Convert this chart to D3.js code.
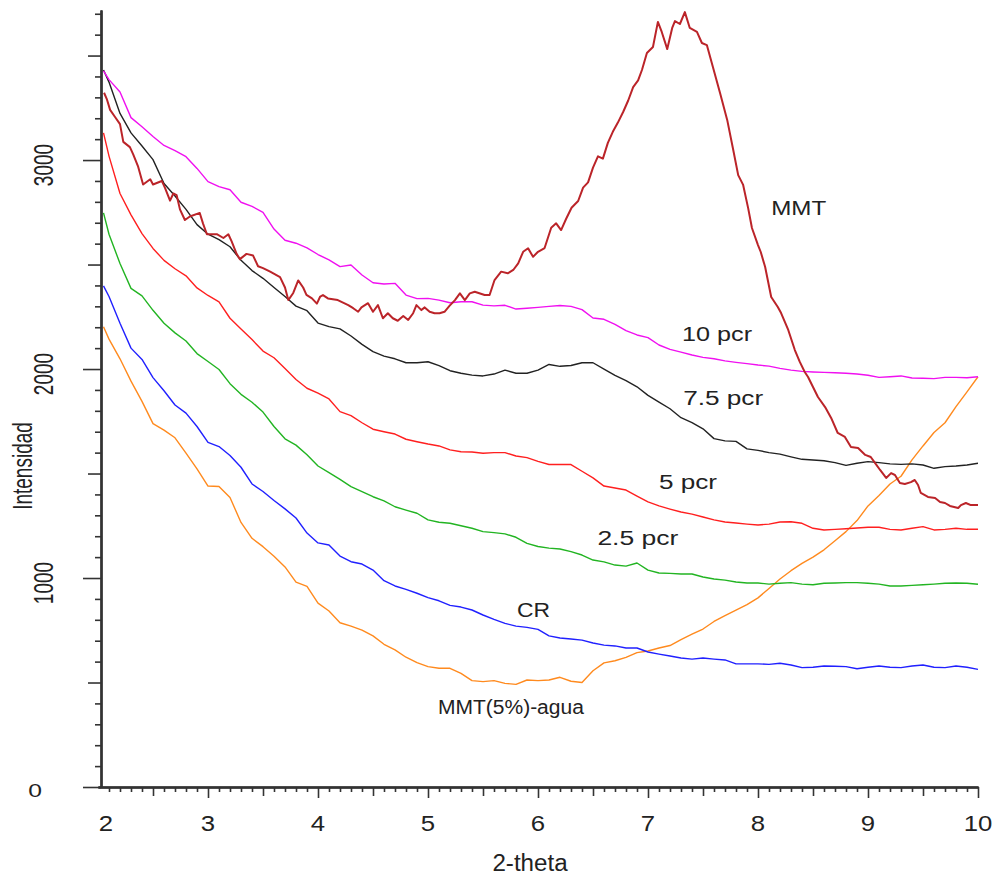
<!DOCTYPE html>
<html>
<head>
<meta charset="utf-8">
<script src="https://cdn.jsdelivr.net/npm/d3@7"></script>
<style>
  html, body { margin: 0; padding: 0; background: #fff; }
  svg text { font-family: "Liberation Sans", Arial, sans-serif; fill: #222; }
</style>
</head>
<body>
<svg id="chart" width="992" height="877"></svg>
<script>
'use strict';

// 2-theta sampling grid used by the six composite patterns
var twoTheta = [2.05].concat(d3.range(21, 101).map(function (i) { return i / 10; }));

// intensities, one value per twoTheta step
var pcr10 = [3427, 3385, 3326, 3203, 3159, 3113, 3070, 3045, 3016, 2960, 2897,
    2873, 2858, 2798, 2778, 2750, 2670, 2616, 2602, 2580, 2548,
    2522, 2490, 2498, 2450, 2413, 2407, 2410, 2354, 2337, 2338,
    2330, 2317, 2322, 2322, 2306, 2302, 2305, 2287, 2291, 2295,
    2300, 2304, 2300, 2284, 2244, 2238, 2214, 2184, 2163, 2150,
    2115, 2094, 2081, 2067, 2056, 2049, 2039, 2032, 2026, 2019,
    2014, 2003, 1995, 1989, 1986, 1984, 1982, 1980, 1976, 1970,
    1960, 1963, 1967, 1957, 1956, 1954, 1960, 1960, 1958, 1963];

var pcr75 = [3431, 3373, 3223, 3130, 3067, 3002, 2888, 2828, 2764, 2691, 2645,
    2619, 2585, 2520, 2471, 2434, 2390, 2347, 2301, 2279, 2220,
    2203, 2192, 2158, 2118, 2083, 2062, 2049, 2030, 2030, 2035,
    2016, 1992, 1980, 1971, 1967, 1976, 1995, 1980, 1980, 1995,
    2022, 2013, 2017, 2030, 2030, 2000, 1970, 1945, 1915, 1874,
    1842, 1810, 1767, 1744, 1714, 1667, 1656, 1654, 1618, 1611,
    1600, 1593, 1580, 1568, 1565, 1561, 1552, 1539, 1549, 1557,
    1552, 1546, 1544, 1546, 1541, 1525, 1533, 1536, 1541, 1549];

var pcr5 = [3130, 3019, 2840, 2738, 2648, 2577, 2520, 2480, 2446, 2388, 2352,
    2321, 2243, 2192, 2141, 2086, 2054, 2002, 1950, 1908, 1885,
    1857, 1796, 1777, 1743, 1712, 1700, 1689, 1664, 1652, 1641,
    1632, 1613, 1604, 1603, 1597, 1600, 1600, 1584, 1576, 1558,
    1543, 1543, 1543, 1511, 1479, 1440, 1431, 1421, 1392, 1364,
    1345, 1330, 1316, 1306, 1292, 1278, 1268, 1263, 1258, 1254,
    1258, 1268, 1269, 1262, 1238, 1230, 1233, 1236, 1239, 1243,
    1243, 1233, 1230, 1238, 1246, 1230, 1233, 1238, 1233, 1233];

var pcr25 = [2747, 2645, 2505, 2386, 2350, 2281, 2219, 2173, 2134, 2074, 2036,
    1998, 1930, 1879, 1841, 1794, 1725, 1666, 1636, 1590, 1536,
    1504, 1472, 1437, 1413, 1389, 1369, 1341, 1325, 1310, 1278,
    1267, 1262, 1250, 1238, 1222, 1217, 1211, 1195, 1166, 1151,
    1143, 1139, 1126, 1110, 1086, 1077, 1062, 1057, 1072, 1038,
    1024, 1022, 1019, 1019, 1005, 995, 990, 981, 976, 976,
    971, 975, 978, 971, 968, 975, 976, 978, 978, 975,
    971, 962, 962, 965, 968, 971, 975, 976, 975, 970];

var cr = [2398, 2347, 2219, 2100, 2046, 1959, 1896, 1828, 1789, 1725, 1649,
    1629, 1586, 1530, 1450, 1414, 1371, 1331, 1287, 1215, 1168,
    1158, 1105, 1078, 1067, 1038, 987, 962, 946, 927, 906,
    891, 869, 861, 847, 823, 802, 783, 770, 764, 754,
    723, 713, 708, 703, 689, 679, 675, 665, 665, 646,
    636, 627, 617, 612, 617, 612, 608, 589, 589, 589,
    587, 592, 584, 571, 573, 579, 578, 576, 566, 573,
    579, 573, 571, 579, 584, 573, 571, 579, 573, 563];

var agua = [2202, 2143, 2049, 1942, 1845, 1739, 1708, 1671, 1598, 1522, 1440,
    1438, 1385, 1266, 1190, 1150, 1104, 1053, 980, 960, 880,
    842, 786, 770, 751, 723, 683, 656, 621, 595, 576,
    568, 568, 544, 509, 504, 509, 496, 491, 512, 509,
    512, 525, 506, 500, 556, 594, 604, 620, 643, 651,
    665, 677, 705, 731, 756, 792, 820, 846, 873, 905,
    950, 995, 1035, 1070, 1100, 1135, 1178, 1222, 1275, 1345,
    1395, 1450, 1487, 1565, 1632, 1696, 1743, 1820, 1891, 1963];

// the clay alone is traced on its own, finer grid (its peak is jagged)
var mmtTheta = [2.055, 2.08, 2.11, 2.155, 2.2, 2.23, 2.29, 2.32, 2.365, 2.41,
    2.475, 2.5, 2.58, 2.61, 2.655, 2.685, 2.715, 2.745, 2.79, 2.835,
    2.925, 2.955, 2.99, 3.08, 3.14, 3.185, 3.215, 3.26, 3.29, 3.35,
    3.41, 3.455, 3.5, 3.565, 3.655, 3.7, 3.73, 3.775, 3.82, 3.865,
    3.895, 3.945, 3.99, 4.02, 4.045, 4.09, 4.18, 4.275, 4.32, 4.365,
    4.395, 4.455, 4.5, 4.545, 4.59, 4.635, 4.68, 4.725, 4.775, 4.82,
    4.865, 4.895, 4.94, 4.97, 5.015, 5.06, 5.105, 5.15, 5.195, 5.245,
    5.29, 5.335, 5.38, 5.425, 5.515, 5.56, 5.605, 5.665, 5.725, 5.775,
    5.82, 5.865, 5.91, 5.955, 6.0, 6.06, 6.12, 6.165, 6.21, 6.255,
    6.305, 6.365, 6.41, 6.455, 6.5, 6.545, 6.59, 6.635, 6.68, 6.725,
    6.775, 6.82, 6.865, 6.91, 6.945, 6.99, 7.045, 7.09, 7.125, 7.175,
    7.22, 7.245, 7.29, 7.335, 7.38, 7.445, 7.49, 7.535, 7.59, 7.655,
    7.72, 7.775, 7.82, 7.865, 7.91, 7.945, 8.0, 8.025, 8.065, 8.12,
    8.18, 8.21, 8.275, 8.335, 8.38, 8.425, 8.455, 8.5, 8.545, 8.61,
    8.665, 8.725, 8.79, 8.845, 8.91, 8.975, 9.025, 9.065, 9.11, 9.165,
    9.21, 9.245, 9.29, 9.335, 9.39, 9.425, 9.455, 9.48, 9.545, 9.61,
    9.655, 9.7, 9.745, 9.82, 9.845, 9.89, 9.935, 10.0];

var mmtCounts = [3322, 3292, 3240, 3206, 3172, 3087, 3062, 3027, 2968, 2883,
    2908, 2883, 2900, 2866, 2806, 2840, 2832, 2764, 2713, 2730,
    2747, 2696, 2645, 2645, 2627, 2645, 2611, 2551, 2526, 2551,
    2543, 2492, 2483, 2466, 2440, 2390, 2330, 2364, 2424, 2390,
    2355, 2338, 2313, 2347, 2354, 2338, 2330, 2306, 2291, 2274,
    2295, 2315, 2274, 2306, 2243, 2267, 2243, 2231, 2254, 2235,
    2267, 2306, 2282, 2295, 2274, 2267, 2267, 2274, 2302, 2330,
    2362, 2330, 2362, 2370, 2354, 2354, 2426, 2466, 2458, 2474,
    2506, 2561, 2578, 2537, 2561, 2579, 2676, 2697, 2665, 2718,
    2772, 2804, 2868, 2893, 2964, 3018, 3007, 3082, 3135, 3178,
    3231, 3285, 3349, 3381, 3431, 3512, 3541, 3661, 3613, 3531,
    3632, 3665, 3651, 3708, 3632, 3613, 3560, 3550, 3445, 3321,
    3192, 3048, 2928, 2881, 2771, 2675, 2593, 2560, 2488, 2345,
    2297, 2268, 2187, 2091, 2034, 1986, 1962, 1914, 1866, 1818,
    1766, 1694, 1675, 1627, 1622, 1589, 1579, 1550, 1517, 1479,
    1502, 1493, 1455, 1450, 1459, 1469, 1445, 1407, 1388, 1383,
    1364, 1359, 1345, 1335, 1349, 1359, 1349, 1349];

// curve names as printed next to each pattern, with their anchor (2-theta, intensity)
var labelText  = ["MMT", "10 pcr", "7.5 pcr", "5 pcr", "2.5 pcr", "CR", "MMT(5%)-agua"];
var labelTheta = [8.12, 7.31, 7.32, 7.10, 6.54, 5.81, 5.09];
var labelValue = [2737, 2134, 1828, 1426, 1158, 813, 349];

var yTickLabels = [0, 1000, 2000, 3000];
var xTickLabels = [2, 3, 4, 5, 6, 7, 8, 9, 10];

/*==============================
=            Setup             =
==============================*/
var svg = d3.select('#chart');
svg.append('rect').attr('width', 992).attr('height', 877).attr('fill', '#fff');

var x = d3.scaleLinear().domain([2, 10]).range([98, 978]);
var y = d3.scaleLinear().domain([0, 3718]).range([787, 10]);

var axisColor = '#333';

/*==============================
=            Axes              =
==============================*/
var yMinor  = d3.range(0, 3800, 100).filter(function (v) { return v % 500 !== 0; });
var yMedium = [500, 1500, 2500, 3500];
var yMajor  = [0, 1000, 2000, 3000];

function drawAxis(g, axis) {
    g.call(axis);
    g.selectAll('.tick line').attr('stroke', axisColor).attr('stroke-width', 1.6);
    g.selectAll('.tick text').remove();
    g.select('.domain').attr('stroke', axisColor).attr('stroke-width', 2);
}

var yAxisG = svg.append('g').attr('transform', 'translate(101,0)');
drawAxis(yAxisG.append('g'), d3.axisLeft(y).tickValues(yMinor).tickSize(6).tickSizeOuter(0));
drawAxis(yAxisG.append('g'), d3.axisLeft(y).tickValues(yMedium).tickSize(13).tickSizeOuter(0));
drawAxis(yAxisG.append('g'), d3.axisLeft(y).tickValues(yMajor).tickSize(18).tickSizeOuter(0));

var xMinor = d3.range(21, 100).filter(function (i) { return i % 5 !== 0; }).map(function (i) { return i / 10; });
var xHalf  = d3.range(25, 100, 10).map(function (i) { return i / 10; });
var xMajor = d3.range(3, 11);

var xAxisG = svg.append('g').attr('transform', 'translate(0,787)');
drawAxis(xAxisG.append('g'), d3.axisBottom(x).tickValues(xMinor).tickSize(5).tickSizeOuter(0));
drawAxis(xAxisG.append('g'), d3.axisBottom(x).tickValues(xHalf).tickSize(9).tickSizeOuter(0));
drawAxis(xAxisG.append('g'), d3.axisBottom(x).tickValues(xMajor).tickSize(11).tickSizeOuter(0));

// tick labels: the source font is stretched sideways, so scale the glyphs
svg.append('g').selectAll('text')
    .data(xTickLabels)
    .enter().append('text')
        .attr('transform', function (d) {
            var px = d === 2 ? 106 : x(d);
            return 'translate(' + px + ',831) scale(1.12,1)';
        })
        .attr('text-anchor', 'middle')
        .style('font-size', '23px')
        .text(function (d) { return d; });

svg.append('g').selectAll('text')
    .data(yTickLabels)
    .enter().append('text')
        .attr('transform', function (d) {
            if (d === 0) return 'translate(35,' + (y(d) + 10) + ') scale(1.3,1)';
            return 'translate(44,' + (y(d) + 5) + ') scale(1.45,1) rotate(-90)';
        })
        .attr('text-anchor', 'middle')
        .attr('dominant-baseline', function (d) { return d === 0 ? 'auto' : 'central'; })
        .style('font-size', function (d) { return d === 0 ? '19px' : '19px'; })
        .text(function (d) { return d; });

svg.append('text')
    .attr('transform', 'translate(23,466) scale(1.45,1) rotate(-90)')
    .attr('text-anchor', 'middle')
    .attr('dominant-baseline', 'central')
    .style('font-size', '19px')
    .text('Intensidad');

svg.append('text')
    .attr('transform', 'translate(530,871) scale(1.05,1)')
    .attr('text-anchor', 'middle')
    .style('font-size', '23px')
    .text('2-theta');

/*==============================
=            Curves            =
==============================*/
var series = [
    { name: 'MMT(5%)-agua', values: agua,  color: '#ff8a1e' },
    { name: 'CR',           values: cr,    color: '#2020ff' },
    { name: '2.5 pcr',      values: pcr25, color: '#22b422' },
    { name: '5 pcr',        values: pcr5,  color: '#ff1f1f' },
    { name: '7.5 pcr',      values: pcr75, color: '#222222' },
    { name: '10 pcr',       values: pcr10, color: '#f010f0' }
];

var line = d3.line()
    .x(function (d) { return x(d[0]); })
    .y(function (d) { return y(d[1]); });

svg.append('g').selectAll('path')
    .data(series)
    .enter().append('path')
        .attr('fill', 'none')
        .attr('stroke', function (d) { return d.color; })
        .attr('stroke-width', 1.4)
        .attr('stroke-linejoin', 'round')
        .attr('d', function (d) {
            return line(twoTheta.map(function (t, i) { return [t, d.values[i]]; }));
        });

svg.append('path')
    .attr('fill', 'none')
    .attr('stroke', '#bb2429')
    .attr('stroke-width', 2)
    .attr('stroke-linejoin', 'round')
    .attr('d', line(mmtTheta.map(function (t, i) { return [t, mmtCounts[i]]; })));

/*==============================
=            Labels            =
==============================*/
var labelWidth = [55, 70, 80, 58, 81, 33, 146];

svg.append('g').selectAll('text')
    .data(labelText)
    .enter().append('text')
        .attr('x', function (d, i) { return x(labelTheta[i]); })
        .attr('y', function (d, i) { return y(labelValue[i]); })
        .attr('textLength', function (d, i) { return labelWidth[i]; })
        .attr('lengthAdjust', 'spacingAndGlyphs')
        .style('font-size', '20px')
        .text(function (d) { return d; });
</script>
</body>
</html>
